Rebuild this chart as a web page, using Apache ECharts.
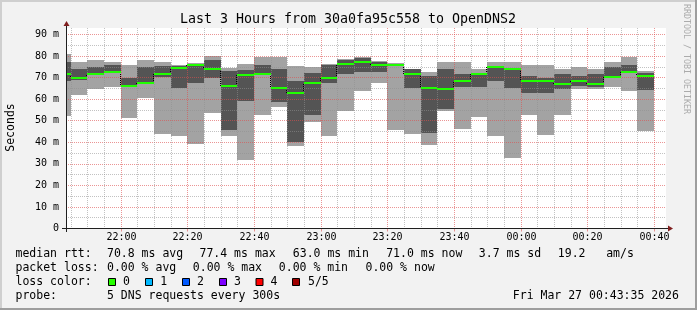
<!DOCTYPE html>
<html><head><meta charset="utf-8">
<script src="https://cdn.jsdelivr.net/npm/echarts@6/dist/echarts.min.js"></script>
<style>html,body{margin:0;padding:0;background:#f2f2f2}#c{width:697px;height:310px}</style>
</head><body><div id="c"></div>
<script>
// ---- data ----
const times = ['21:45','21:50','21:55','22:00','22:05','22:10','22:15','22:20','22:25','22:30','22:35','22:40',
  '22:45','22:50','22:55','23:00','23:05','23:10','23:15','23:20','23:25','23:30','23:35','23:40',
  '23:45','23:50','23:55','00:00','00:05','00:10','00:15','00:20','00:25','00:30','00:35','00:40']; // end of each 5-min step
const pingMax  = [81.0,77.3,78.2,77.3,75.9,78.2,77.3,75.9,76.6,80.0,74.5,76.3,79.6,79.6,75.4,74.8,76.2,78.7,79.7,77.5,76.6,74.2,72.8,77.3,77.3,74.0,77.3,77.3,75.9,75.9,74.0,75.0,74.0,77.3,79.6,73.1];
const pingHigh = [77.3,74.0,75.0,75.9,69.6,75.0,75.4,75.4,76.2,78.2,73.1,73.3,75.9,74.0,68.5,72.2,75.9,78.3,79.2,77.2,76.2,74.0,70.8,73.8,71.7,72.2,75.4,74.6,70.8,69.9,71.7,70.8,71.7,75.0,76.0,72.3];
const median   = [71.8,69.9,71.8,72.8,66.2,67.7,71.8,74.5,75.9,74.0,66.2,71.3,71.8,65.3,63.0,67.7,69.9,76.3,77.4,75.9,75.9,71.8,65.3,64.9,68.6,71.8,75.0,74.0,68.6,68.6,67.2,68.6,67.2,70.4,72.8,70.9];
const pingLow  = [68.6,68.7,71.3,72.2,65.8,67.2,70.3,65.3,67.6,69.9,45.7,59.3,71.1,58.8,40.0,52.7,67.7,71.7,72.8,72.8,75.4,65.3,44.5,55.5,65.6,65.7,68.6,65.3,63.0,63.0,64.9,66.0,65.6,70.0,72.3,64.4];
const pingMin  = [52.0,62.0,64.9,65.7,51.1,60.7,43.9,42.7,39.0,53.6,42.7,31.9,52.7,56.5,38.1,49.6,42.7,54.5,63.9,67.7,45.7,43.9,38.9,54.5,46.3,51.9,42.7,32.9,52.7,43.4,52.7,64.9,64.9,65.7,63.9,45.3];
const xTickLabels = ['22:00','22:20','22:40','23:00','23:20','23:40','00:00','00:20','00:40'];
const yTickLabels = ['0','10 m','20 m','30 m','40 m','50 m','60 m','70 m','80 m','90 m'];
const rangeStart = '21:43:35', rangeEnd = '00:43:35';
const STEP = 5;
const rttLabel = 'median rtt:';
const rttStats = ['70.8 ms avg','77.4 ms max','63.0 ms min','71.0 ms now','3.7 ms sd','19.2','am/s'];
const lossLabel = 'packet loss:';
const lossStats = ['0.00 % avg','0.00 % max','0.00 % min','0.00 % now'];
const lossColorLabel = 'loss color:';
const lossNames = ['0','1','2','3','4','5/5'];
const lossColors = ['#26ff00','#00b8ff','#0059ff','#7e00ff','#ff0000','#a00000'];
const probeLabel = 'probe:';
const probeText = '5 DNS requests every 300s';
const stamp = 'Fri Mar 27 00:43:35 2026';
const titleText = 'Last 3 Hours from 30a0fa95c558 to OpenDNS2';

// ---- layout / style ----
const FONT = "'DejaVu Sans Mono', monospace";
const LIGHT = '#a3a3a3', DARK = '#545454', GREEN = '#20ff00';
const GRID = 'rgba(143,143,143,0.55)', MGRID = 'rgba(222,79,79,0.6)';
const rttX = [107, 199.5, 292.8, 386.2, 478.8, 557.8, 606.2];
const lossX = [107, 192.8, 278.8, 365.5];
const boxX = [108.5, 145.5, 182.5, 219.5, 256, 292.5];
const boxLabelX = [123, 160.3, 197, 234, 270.6, 308];
const lineY = [253.8, 267.8, 281.8, 295.8];

function toMin(s){ const p = s.split(':').map(Number); let m = p[0]*60 + p[1] + (p[2]||0)/60; if (p[0] < 12) m += 1440; return m; }

const smokeData = times.map((t,i)=>[toMin(t)-STEP, toMin(t), pingMin[i], pingLow[i], median[i], pingHigh[i], pingMax[i]]);
const connData = times.slice(1).map((t,k)=>[toMin(times[k]), median[k], median[k+1]]);
const gridData = times.map(t=>[toMin(t)]);
const labelData = xTickLabels.map(l=>[toMin(l)]);

function span(params, api){
  const cs = params.coordSys;
  const s = api.value(0), e = api.value(1);
  const x0 = Math.round(Math.max(api.coord([s,0])[0], cs.x));
  const x1 = Math.round(Math.min(api.coord([e,0])[0], cs.x + cs.width));
  return [x0, x1];
}

const chart = echarts.init(document.getElementById('c'), null, {renderer:'canvas'});
const txt = (text, x, y, extra) => Object.assign({type:'text', x, y, z:10, style:Object.assign({text, font:'11.5px '+FONT, fill:'#000', align:'left', verticalAlign:'middle'}, (extra||{}))});

const graphic = [
  {type:'rect', shape:{x:0,y:0,width:697,height:2}, style:{fill:'#cfcfcf'}, z:1},
  {type:'rect', shape:{x:0,y:0,width:2,height:310}, style:{fill:'#cfcfcf'}, z:1},
  {type:'rect', shape:{x:0,y:308,width:697,height:2}, style:{fill:'#9e9e9e'}, z:1},
  {type:'rect', shape:{x:695,y:0,width:2,height:310}, style:{fill:'#9e9e9e'}, z:1},
  txt(titleText, 348, 19.5, {font:'13.3px '+FONT, align:'center'}),
  {type:'text', x:11.5, y:127.5, rotation:Math.PI/2, z:10, style:{text:'Seconds', font:'11.5px '+FONT, fill:'#000', align:'center', verticalAlign:'middle'}},
  {type:'text', x:686, y:59, rotation:-Math.PI/2, z:10, style:{text:'RRDTOOL / TOBI OETIKER', font:'8.3px '+FONT, fill:'#ababab', align:'center', verticalAlign:'middle'}},
  {type:'line', shape:{x1:62, y1:228.5, x2:668, y2:228.5}, style:{stroke:'#1f1f1f', lineWidth:1}, z:20},
  {type:'line', shape:{x1:66.5, y1:232, x2:66.5, y2:25}, style:{stroke:'#1f1f1f', lineWidth:1}, z:20},
  {type:'polygon', shape:{points:[[668,225.5],[673,228.5],[668,231.5]]}, style:{fill:'#801f1f'}, z:21},
  {type:'polygon', shape:{points:[[63.5,26],[66.5,21],[69.5,26]]}, style:{fill:'#801f1f'}, z:21},
  txt(rttLabel, 15.5, lineY[0]),
  ...rttStats.map((s,i)=>txt(s, rttX[i], lineY[0])),
  txt(lossLabel, 15.5, lineY[1]),
  ...lossStats.map((s,i)=>txt(s, lossX[i], lineY[1])),
  txt(lossColorLabel, 15.5, lineY[2]),
  ...lossColors.map((c,i)=>({type:'rect', z:10, shape:{x:boxX[i], y:278.5, width:7, height:7}, style:{fill:c, stroke:'#000', lineWidth:1}})),
  ...lossNames.map((s,i)=>txt(s, boxLabelX[i], lineY[2])),
  txt(probeLabel, 15.5, lineY[3]),
  txt(probeText, 107, lineY[3]),
  txt(stamp, 512.8, lineY[3])
];

chart.setOption({
  animation:false,
  backgroundColor:'#f2f2f2',
  grid:{left:66, right:31, top:28, bottom:81.5, containLabel:false, outerBoundsMode:'none', show:true, backgroundColor:'#ffffff', borderWidth:0},
  xAxis:{type:'value', min:toMin(rangeStart), max:toMin(rangeEnd), axisLine:{show:false}, axisTick:{show:false}, axisLabel:{show:false}, splitLine:{show:false}},
  yAxis:{type:'value', min:0, max:93, interval:5, z:3,
    axisLine:{show:false}, axisTick:{show:false},
    axisLabel:{showMaxLabel:false, margin:7, fontFamily:FONT, fontSize:10, color:'#000',
      formatter:v => (v % 10 === 0 ? yTickLabels[v/10] : '')},
    splitLine:{show:true, showMaxLine:false, lineStyle:{type:[1,1], width:1, color:[MGRID, GRID]}}},
  graphic,
  series:[
    {type:'custom', name:'smoke', z:2, silent:true, data:smokeData,
      renderItem:(params, api)=>{
        const [x0,x1] = span(params, api);
        const s = api.value(0);
        const y = v => Math.round(api.coord([s, v])[1]);
        return {type:'group', children:[
          {type:'rect', shape:{x:x0, y:y(api.value(6)), width:x1-x0, height:y(api.value(2))-y(api.value(6))}, style:{fill:LIGHT}},
          {type:'rect', shape:{x:x0, y:y(api.value(5)), width:x1-x0, height:y(api.value(3))-y(api.value(5))}, style:{fill:DARK}}
        ]};
      }},
    {type:'custom', name:'xgrid', z:3, silent:true, data:gridData,
      renderItem:(params, api)=>{
        const cs = params.coordSys;
        const t = api.value(0);
        const x = Math.round(api.coord([t,0])[0]) + 0.5;
        const major = labelData.some(d=>Math.abs(d[0]-t)<1e-6);
        return {type:'line', shape:{x1:x, y1:cs.y, x2:x, y2:cs.y+cs.height}, style:{stroke:major?MGRID:GRID, lineWidth:1, lineDash:[1,1]}};
      }},
    {type:'custom', name:'connectors', z:4, silent:true, data:connData,
      renderItem:(params, api)=>{
        const t = api.value(0);
        const x = Math.round(api.coord([t,0])[0]) - 0.5;
        const ya = Math.round(api.coord([t, api.value(1)])[1]);
        const yb = Math.round(api.coord([t, api.value(2)])[1]);
        return {type:'line', shape:{x1:x, y1:ya, x2:x, y2:yb}, style:{stroke:'#000', lineWidth:1, lineDash:[1,1]}};
      }},
    {type:'custom', name:'median', z:5, silent:true, data:smokeData,
      renderItem:(params, api)=>{
        const [x0,x1] = span(params, api);
        const ym = Math.round(api.coord([api.value(0), api.value(4)])[1]);
        return {type:'line', shape:{x1:x0, y1:ym, x2:x1, y2:ym}, style:{stroke:GREEN, lineWidth:2}};
      }},
    {type:'custom', name:'xlabels', z:6, silent:true, data:labelData,
      renderItem:(params, api)=>{
        const cs = params.coordSys;
        const t = api.value(0);
        const x = Math.round(api.coord([t,0])[0]) + 0.5;
        const yb = cs.y + cs.height;
        return {type:'group', children:[
          {type:'line', shape:{x1:x, y1:yb, x2:x, y2:yb+3}, style:{stroke:MGRID, lineWidth:1}},
          {type:'text', x:x, y:yb+9, style:{text:xTickLabels[params.dataIndex], font:'10px '+FONT, fill:'#000', align:'center', verticalAlign:'middle'}}
        ]};
      }}
  ]
});
</script></body></html>
